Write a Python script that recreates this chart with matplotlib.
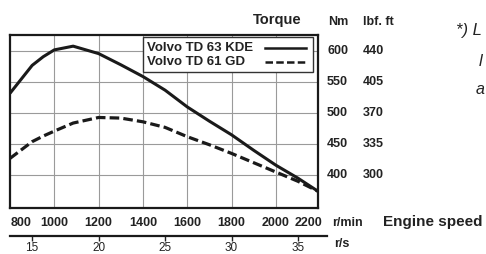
import matplotlib
matplotlib.use("Agg")
from matplotlib import pyplot as plt
import matplotlib.transforms as mtransforms
from matplotlib.patches import Rectangle
from matplotlib.lines import Line2D

plt.rcParams['font.family'] = ['Liberation Sans', 'DejaVu Sans']

# engine speed (r/min) and torque (Nm)
rpm = [800, 900, 950, 1000, 1085, 1200, 1300, 1400, 1500, 1600, 1700, 1800, 1900, 2000, 2100, 2190]
torque_kde = [532, 577, 591, 602, 608, 596, 578, 559, 537, 510, 487, 465, 440, 416, 395, 374]
torque_gd = [427, 454, 463, 471, 484, 493, 492, 486, 477, 462, 449, 435, 420, 405, 390, 374]
names = ['Volvo TD 63 KDE', 'Volvo TD 61 GD']

x_ticks = [800, 1000, 1200, 1400, 1600, 1800, 2000, 2200]
nm_ticks = [400, 450, 500, 550, 600]
lbf_labels = ['300', '335', '370', '405', '440']
rs_ticks = [15, 20, 25, 30, 35]

TXT = '#222222'
INK = '#1a1a1a'
W, H = 486, 254
DASH = (0, (3, 1.3))


def fx(px):
    return px / W


def fy(py):
    return 1 - py / H


fig = plt.figure(figsize=(W / 100, H / 100), dpi=100)
fig.patch.set_facecolor('white')
ax = fig.add_axes([fx(10), fy(208), 308 / W, 173 / H])

ax.plot(rpm, torque_kde, color=INK, lw=2.2, solid_capstyle='butt')
ax.plot(rpm, torque_gd, color=INK, lw=2.3, linestyle=DASH)

ax.set_xlim(800, 2190)
ax.set_ylim(347, 626)

for v in x_ticks[1:-1]:
    ax.axvline(v, color='#9a9a9a', lw=0.8, zorder=0)
for v in nm_ticks:
    ax.axhline(v, color='#9a9a9a', lw=0.8, zorder=0)

for s in ax.spines.values():
    s.set_linewidth(1.6)
    s.set_color(INK)

# x tick labels (r/min)
ax.set_xticks([])
trans_x = mtransforms.blended_transform_factory(ax.transData, fig.transFigure)
for v in x_ticks:
    ha = 'center'
    xx = v
    if v == 800:
        ha = 'left'
        xx = 805
    if v == 2200:
        ha = 'right'
        xx = 2210
    ax.text(xx, fy(223), str(v), transform=trans_x, ha=ha, va='center',
            fontsize=9, fontweight='bold', color=TXT)

# y tick labels on the right: Nm and lbf.ft
ax.set_yticks([])
trans_y = mtransforms.blended_transform_factory(fig.transFigure, ax.transData)
for v, lb in zip(nm_ticks, lbf_labels):
    ax.text(fx(327), v, str(v), transform=trans_y, ha='left', va='center',
            fontsize=9, fontweight='bold', color=TXT)
    ax.text(fx(363), v, lb, transform=trans_y, ha='left', va='center',
            fontsize=9, fontweight='bold', color=TXT)

fig.text(fx(277), fy(20), 'Torque', ha='center', va='center',
         fontsize=10.5, fontweight='bold', color=TXT)
fig.text(fx(328), fy(22), 'Nm', ha='left', va='center',
         fontsize=9, fontweight='bold', color=TXT)
fig.text(fx(363), fy(22), 'lbf. ft', ha='left', va='center',
         fontsize=9, fontweight='bold', color=TXT)
fig.text(fx(332), fy(223), 'r/min', ha='left', va='center',
         fontsize=9, fontweight='bold', color=TXT)
fig.text(fx(383), fy(222), 'Engine speed', ha='left', va='center',
         fontsize=11, fontweight='bold', color=TXT)
fig.text(fx(334), fy(244), 'r/s', ha='left', va='center',
         fontsize=9, fontweight='bold', color=TXT)

# footnote, running off the right edge in the original
fig.text(fx(456), fy(30), '*) L', ha='left', va='center', fontsize=12,
         style='italic', color=TXT)
fig.text(fx(479), fy(62), 'l', ha='left', va='center', fontsize=12,
         style='italic', color=TXT)
fig.text(fx(476), fy(89), 'a', ha='left', va='center', fontsize=11.5,
         style='italic', color=TXT)

# r/s scale under the r/min labels (its own thin axes, a bit wider)
ax_rs = fig.add_axes([fx(10), fy(236), 317 / W, 0.0001])
x0, x1 = ax.get_xlim()
px_per_rpm = 308 / (x1 - x0)
ax_rs.set_xlim(x0 / 60, (x0 + 317 / px_per_rpm) / 60)
ax_rs.set_yticks([])
ax_rs.set_xticks(rs_ticks)
ax_rs.set_xticklabels([str(v) for v in rs_ticks])
ax_rs.tick_params(axis='x', direction='out', length=3.5, width=1, pad=0.5,
                  labelsize=8.5, colors=TXT)
for k in ['top', 'left', 'right']:
    ax_rs.spines[k].set_visible(False)
ax_rs.spines['bottom'].set_linewidth(1.6)
ax_rs.spines['bottom'].set_color(INK)
ax_rs.patch.set_visible(False)

# legend box, text on the left and line samples on the right
fig.patches.append(Rectangle((fx(143), fy(72)), 170 / W, 35 / H,
                             transform=fig.transFigure, facecolor='white',
                             edgecolor='#333333', lw=1.0, zorder=5))
styles = ['-', DASH]
for i, (name, st) in enumerate(zip(names, styles)):
    yy = fy(48 + 14 * i)
    fig.text(fx(147), yy, name, ha='left', va='center', fontsize=9.5,
             fontweight='bold', color=TXT, zorder=6)
    fig.lines.append(Line2D([fx(265), fx(306)], [yy, yy], transform=fig.transFigure,
                            color=INK, lw=1.8, linestyle=st, zorder=6))

fig.savefig('out.png', dpi=100, facecolor='white')
